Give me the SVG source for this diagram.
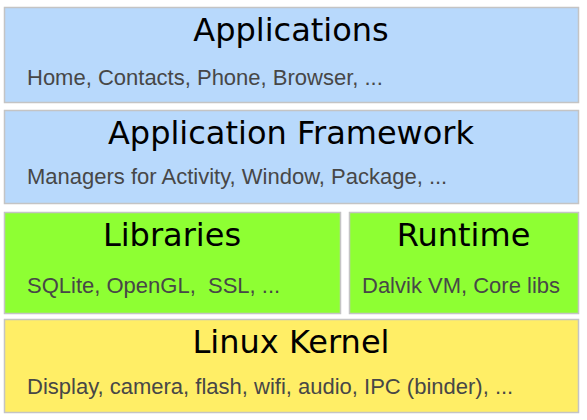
<svg xmlns="http://www.w3.org/2000/svg" width="587" height="420" viewBox="0 0 587 420">
<style>
.box{stroke:#c4c4c4;stroke-width:1.5}
.blue{fill:#b8d9fc}
.green{fill:#8eff33}
.yellow{fill:#ffee66}
.title{font-family:"DejaVu Sans",sans-serif;font-size:32px;fill:#000;text-anchor:middle}
.sub{font-family:"Liberation Sans",Arial,sans-serif;font-size:22px;fill:#474747;white-space:pre}
</style>
<rect width="587" height="420" fill="#fff"/>
<g id="applications">
<rect class="box blue" x="4.5" y="7.5" width="574" height="95"/>
<text class="title" x="291" y="41">Applications</text>
<text class="sub" x="27" y="84.5">Home, Contacts, Phone, Browser, ...</text>
</g>
<g id="framework">
<rect class="box blue" x="4.5" y="110.5" width="574" height="93"/>
<text class="title" x="291" y="144">Application Framework</text>
<text class="sub" x="27" y="184">Managers for Activity, Window, Package, ...</text>
</g>
<g id="libraries">
<rect class="box green" x="4.5" y="212.5" width="336" height="101"/>
<text class="title" x="172" y="246">Libraries</text>
<text class="sub" x="27" y="293" xml:space="preserve">SQLite, OpenGL,  SSL, ...</text>
</g>
<g id="runtime">
<rect class="box green" x="349.5" y="212.5" width="229" height="101"/>
<text class="title" x="463.5" y="246">Runtime</text>
<text class="sub" x="362" y="293">Dalvik VM, Core libs</text>
</g>
<g id="kernel">
<rect class="box yellow" x="4.5" y="319.5" width="574" height="93"/>
<text class="title" x="291" y="353">Linux Kernel</text>
<text class="sub" x="27" y="394">Display, camera, flash, wifi, audio, IPC (binder), ...</text>
</g>
<g id="connectors"/>
</svg>
